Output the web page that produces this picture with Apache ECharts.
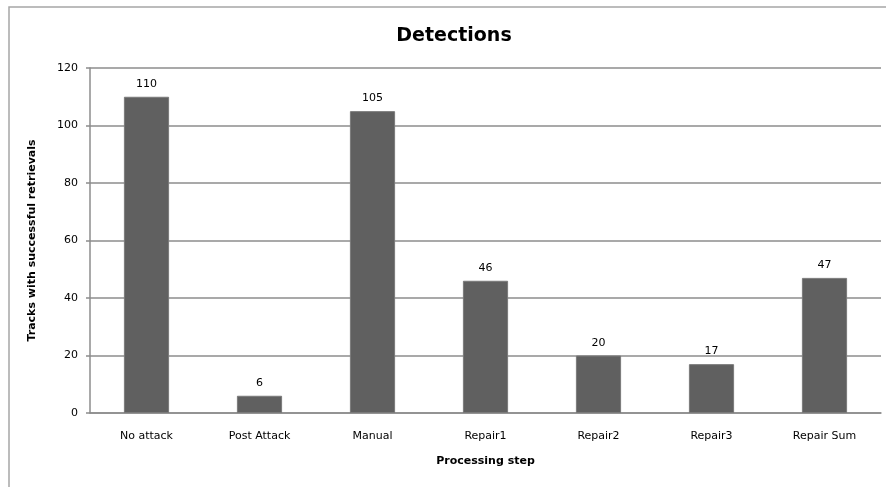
<!DOCTYPE html>
<html><head><meta charset="utf-8">
<script src="https://cdn.jsdelivr.net/npm/echarts@6/dist/echarts.min.js"></script>
<style>html,body{margin:0;padding:0;background:#fff}#c{width:886px;height:487px}</style>
</head><body><div id="c"></div>
<script>
const categories = ['No attack','Post Attack','Manual','Repair1','Repair2','Repair3','Repair Sum'];
const detections = [110, 6, 105, 46, 20, 17, 47];
const yTicks = [0, 20, 40, 60, 80, 100, 120];

const chart = echarts.init(document.getElementById('c'));
const F = 'DejaVu Sans';
chart.setOption({
  animation: false,
  backgroundColor: '#fff',
  title: {
    text: 'Detections', left: 449, top: 22, textAlign: 'center',
    textStyle: { fontFamily: F, fontSize: 19, fontWeight: 'bold', color: '#000' }
  },
  graphic: [{
    type: 'rect', shape: { x: 9, y: 7, width: 900, height: 500 },
    style: { fill: 'none', stroke: '#a6a6a6', lineWidth: 1.5 }, silent: true, z: -1
  }],
  grid: { left: 90, right: 5, top: 68, bottom: 74, containLabel: false },
  xAxis: {
    type: 'category', data: categories,
    name: 'Processing step', nameLocation: 'middle', nameGap: 43,
    nameTextStyle: { fontFamily: F, fontSize: 11, fontWeight: 'bold', color: '#000' },
    axisLine: { lineStyle: { color: '#8c8c8c', width: 1.5 } },
    axisTick: { show: false },
    axisLabel: { fontFamily: F, fontSize: 11, color: '#000', margin: 18 }
  },
  yAxis: {
    type: 'value', min: yTicks[0], max: yTicks[yTicks.length - 1], interval: 20,
    name: 'Tracks with successful retrievals', nameLocation: 'middle', nameGap: 52,
    nameTextStyle: { fontFamily: F, fontSize: 11, fontWeight: 'bold', color: '#000' },
    axisLine: { show: true, lineStyle: { color: '#8c8c8c', width: 1.5 } },
    axisTick: { show: true, length: 4, lineStyle: { color: '#8c8c8c', width: 1.5 } },
    axisLabel: { fontFamily: F, fontSize: 11, color: '#000', margin: 12 },
    splitLine: { lineStyle: { color: '#8c8c8c', width: 1.5 } }
  },
  series: [{
    type: 'bar', data: detections, barWidth: '40%',
    itemStyle: { color: '#606060', borderColor: '#7a7a7a', borderWidth: 1 },
    label: { show: true, position: 'top', distance: 7, fontFamily: F, fontSize: 11, color: '#000' }
  }]
});
</script></body></html>
